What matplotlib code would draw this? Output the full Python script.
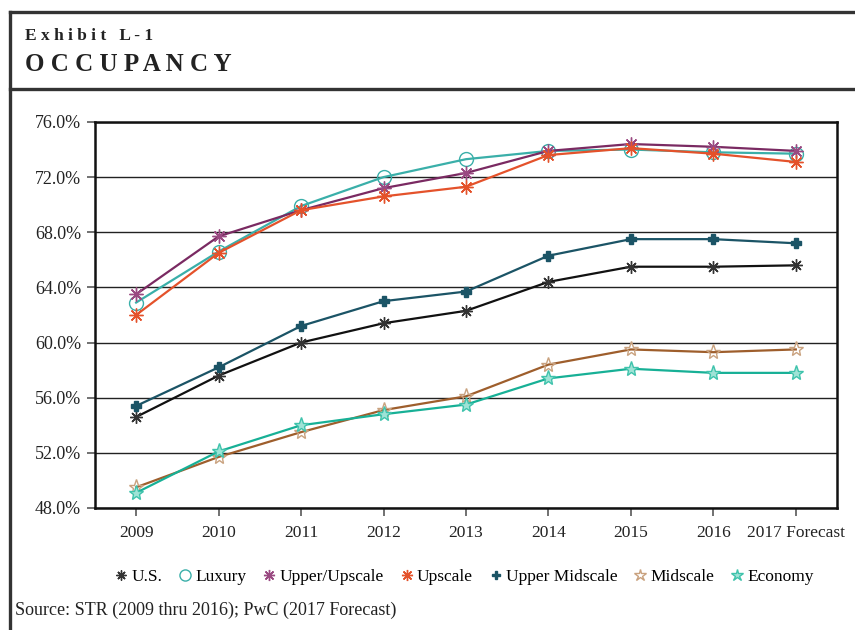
import matplotlib
matplotlib.use("Agg")
import matplotlib.pyplot as plt
from matplotlib.lines import Line2D

plt.rcParams['font.family'] = ['Liberation Serif', 'DejaVu Serif']

years = ['2009', '2010', '2011', '2012', '2013', '2014', '2015', '2016', '2017 Forecast']

us = [54.6, 57.6, 60.0, 61.4, 62.3, 64.4, 65.5, 65.5, 65.6]
luxury = [62.9, 66.6, 69.9, 72.0, 73.3, 73.9, 74.0, 73.8, 73.7]
upper_upscale = [63.5, 67.7, 69.6, 71.2, 72.3, 73.9, 74.4, 74.2, 73.9]
upscale = [62.0, 66.5, 69.6, 70.6, 71.3, 73.6, 74.1, 73.7, 73.1]
upper_midscale = [55.4, 58.2, 61.2, 63.0, 63.7, 66.3, 67.5, 67.5, 67.2]
midscale = [49.5, 51.7, 53.5, 55.1, 56.1, 58.4, 59.5, 59.3, 59.5]
economy = [49.1, 52.1, 54.0, 54.8, 55.5, 57.4, 58.1, 57.8, 57.8]

y_ticks = [48, 52, 56, 60, 64, 68, 72, 76]

# name, values, line colour, marker, marker edge, marker face, size
series = [
    ('U.S.', us, '#111111', (8, 2, 0), '#333333', '#333333', 9),
    ('Luxury', luxury, '#3AAFA9', 'o', '#3AAFA9', 'none', 10),
    ('Upper/Upscale', upper_upscale, '#7A2A62', (8, 2, 0), '#9A4A82', '#9A4A82', 10),
    ('Upscale', upscale, '#E4522B', (8, 2, 0), '#E4522B', '#E4522B', 10),
    ('Upper Midscale', upper_midscale, '#1B5466', 'P', '#1B5466', '#1B5466', 6.5),
    ('Midscale', midscale, '#9E5E2C', '*', '#C9A27F', 'none', 11),
    ('Economy', economy, '#17B096', '*', '#3FC3AC', '#9FE3D6', 11),
]

fig = plt.figure(figsize=(8.55, 6.30), dpi=100)
ax = fig.add_axes([0.111, 0.1937, 0.868, 0.6127])

x = list(range(len(years)))
for name, vals, col, mk, mec, mfc, ms in series:
    ax.plot(x, vals, color=col, lw=1.6, marker=mk, mec=mec, mfc=mfc,
            ms=ms, mew=1.0, zorder=3)

ax.set_xlim(-0.5, 8.5)
ax.set_ylim(48, 76)
ax.set_yticks(y_ticks)
ax.set_yticklabels([f'{v:.1f}%' for v in y_ticks], fontsize=13, color='#222222')
ax.set_xticks(x)
ax.set_xticklabels(years, fontsize=12.5, color='#222222')
ax.tick_params(axis='both', length=6, width=1.3, color='#666666', direction='out')
ax.tick_params(axis='y', pad=4)
ax.tick_params(axis='x', pad=6)
ax.yaxis.grid(True, color='#222222', lw=1.0)
ax.set_axisbelow(True)
for s in ax.spines.values():
    s.set_linewidth(1.8)
    s.set_color('#111111')

handles = [Line2D([], [], ls='none', marker=mk, mec=mec, mfc=mfc,
                  ms=ms * 0.8, mew=1.0) for _, _, _, mk, mec, mfc, ms in series]
labels = [s[0] for s in series]
fig.legend(handles, labels, loc='center', bbox_to_anchor=(0.544, 0.084), ncol=7,
           frameon=False, fontsize=12.5, handlelength=0.6, handletextpad=0.3,
           columnspacing=1.0)

fig.text(0.017, 0.031, 'Source: STR (2009 thru 2016); PwC (2017 Forecast)',
         fontsize=13, color='#222222', va='center')

# header frame
fig.add_artist(Line2D([0.0117, 1.0], [0.981, 0.981], color='#333333', lw=2.4))
fig.add_artist(Line2D([0.0117, 1.0], [0.859, 0.859], color='#333333', lw=2.4))
fig.add_artist(Line2D([0.0117, 0.0117], [0.0, 0.981], color='#333333', lw=2.4))
fig.text(0.029, 0.943, 'E x h i b i t   L - 1', fontsize=12.5, fontweight='bold',
         color='#222222', va='center')
fig.text(0.029, 0.898, 'O C C U P A N C Y', fontsize=18, fontweight='bold',
         color='#222222', va='center')

fig.savefig('out.png', dpi=100)
